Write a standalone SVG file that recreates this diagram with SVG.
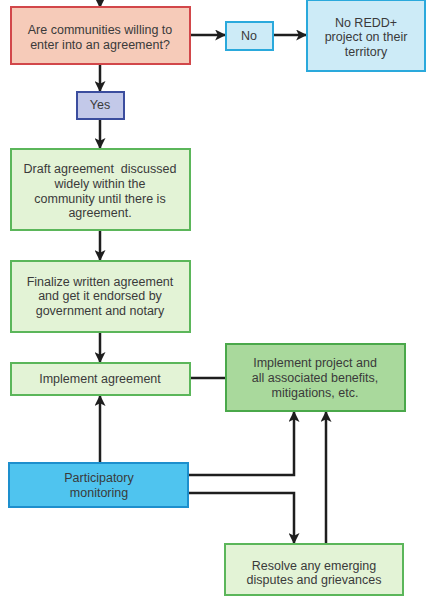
<svg xmlns="http://www.w3.org/2000/svg" width="428" height="597" viewBox="0 0 428 597">
<style>
text{font-family:"Liberation Sans","DejaVu Sans",sans-serif;font-size:12.5px;fill:#3a3a3a;text-anchor:middle}
.c{fill:none;stroke:#1e1e1e;stroke-width:2.5}
.pink{fill:#f6cbb9;stroke:#d2474a;stroke-width:2}
.lb{fill:#cdebf7;stroke:#2aa9dc;stroke-width:2}
.yes{fill:#c3c9e9;stroke:#3b4d9e;stroke-width:2}
.g{fill:#e3f3d6;stroke:#5bb65a;stroke-width:2}
.dg{fill:#a9d99c;stroke:#4aa84a;stroke-width:2}
.b{fill:#4fc4ef;stroke:#1d8fcd;stroke-width:2}
</style>
<defs>
<marker id="ah" viewBox="0 0 10 10" refX="9" refY="5" markerWidth="4.4" markerHeight="4.4" orient="auto" markerUnits="strokeWidth">
<path d="M0,0 L10,5 L0,10 L2.5,5 Z" fill="#1e1e1e"/>
</marker>
</defs>
<g id="connectors">
<path class="c" d="M100,0 V7" marker-end="url(#ah)"/>
<path class="c" d="M100,64 V91" marker-end="url(#ah)"/>
<path class="c" d="M190,35 H225" marker-end="url(#ah)"/>
<path class="c" d="M273,35 H306" marker-end="url(#ah)"/>
<path class="c" d="M100,119 V148" marker-end="url(#ah)"/>
<path class="c" d="M100,230 V260" marker-end="url(#ah)"/>
<path class="c" d="M100,332 V362" marker-end="url(#ah)"/>
<path class="c" d="M100,463 V396" marker-end="url(#ah)"/>
<path class="c" d="M190,378 H226"/>
<path class="c" d="M188,475 H294 V412" marker-end="url(#ah)"/>
<path class="c" d="M188,493 H294 V543" marker-end="url(#ah)"/>
<path class="c" d="M326,544 V412" marker-end="url(#ah)"/>
</g>
<g id="q">
<rect class="pink" x="11" y="7" width="179" height="57"/>
<text x="100" y="34">Are communities willing to</text>
<text x="100" y="49">enter into an agreement?</text>
</g>
<g id="no">
<rect class="lb" x="226" y="22" width="47" height="28"/>
<text x="249" y="40">No</text>
</g>
<g id="noredd">
<rect class="lb" x="307" y="0" width="118" height="71"/>
<text x="366" y="27">No REDD+</text>
<text x="366" y="41">project on their</text>
<text x="366" y="56">territory</text>
</g>
<g id="yes">
<rect class="yes" x="77" y="92" width="47" height="27"/>
<text x="100" y="109">Yes</text>
</g>
<g id="draft">
<rect class="g" x="11" y="149" width="179" height="81"/>
<text x="100" y="173" style="white-space:pre">Draft agreement  discussed</text>
<text x="100" y="188">widely within the</text>
<text x="100" y="203">community until there is</text>
<text x="100" y="217">agreement.</text>
</g>
<g id="finalize">
<rect class="g" x="11" y="261" width="179" height="71"/>
<text x="100" y="286">Finalize written agreement</text>
<text x="100" y="300">and get it endorsed by</text>
<text x="100" y="315">government and notary</text>
</g>
<g id="implement">
<rect class="g" x="11" y="363" width="179" height="32"/>
<text x="100" y="383">Implement agreement</text>
</g>
<g id="project">
<rect class="dg" x="226" y="344" width="179" height="67"/>
<text x="315" y="367">Implement project and</text>
<text x="315" y="382">all associated benefits,</text>
<text x="315" y="397">mitigations, etc.</text>
</g>
<g id="monitoring">
<rect class="b" x="9" y="463" width="179" height="44"/>
<text x="99" y="482">Participatory</text>
<text x="99" y="497">monitoring</text>
</g>
<g id="resolve">
<rect class="g" x="225" y="544" width="178" height="51"/>
<text x="314" y="570">Resolve any emerging</text>
<text x="314" y="584">disputes and grievances</text>
</g>
</svg>
